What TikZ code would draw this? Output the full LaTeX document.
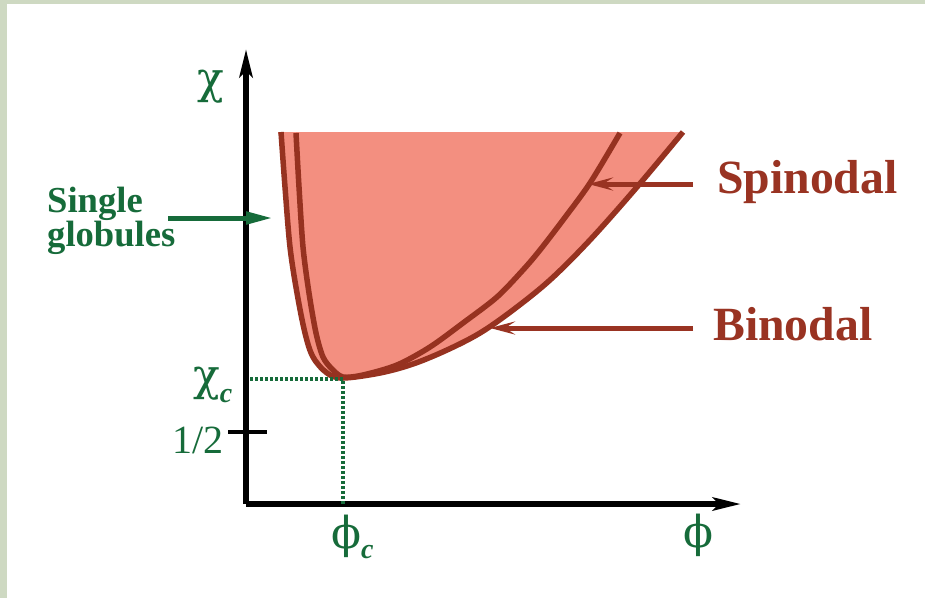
\documentclass[tikz,border=0pt]{standalone}
\usepackage{fontspec}
\setmainfont{Liberation Serif}
\newfontfamily\greekfont{DejaVu Serif}
\usetikzlibrary{arrows.meta}
\definecolor{framebg}{RGB}{206,217,194}
\definecolor{lbgreen}{RGB}{22,107,58}
\definecolor{lbred}{RGB}{153,51,34}
\definecolor{curvecol}{RGB}{150,50,32}
\definecolor{regioncol}{RGB}{243,143,128}
\tikzset{
  axisline/.style={line width=5.5pt, -{Stealth[length=28pt,width=13pt,inset=6pt]}},
  curveline/.style={draw=curvecol, line width=5.5pt},
  pointer/.style={draw=lbred, fill=lbred, line width=5pt, -{Stealth[length=25pt,width=13pt,inset=10pt]}},
  greenpointer/.style={draw=lbgreen, fill=lbgreen, line width=5pt, -{Triangle[length=27pt,width=12pt]}},
  greek/.style={text=lbgreen, inner sep=0pt, font=\fontsize{44}{44}\greekfont},
  bigred/.style={text=lbred, inner sep=0pt, font=\fontsize{47.7}{48}\selectfont\bfseries},
  guide/.style={lbgreen, line width=3.5pt, dash pattern=on 3pt off 2pt}
}
\newcommand{\subc}[1]{\raisebox{#1}{\fontsize{28}{28}\rmfamily\bfseries\itshape c}}
\begin{document}
\begin{tikzpicture}[x=1pt,y=-1pt]
\useasboundingbox (0,0) rectangle (925,598);
\fill[framebg] (0,0) rectangle (925,598);
\fill[white] (7,4) rectangle (925,598);

% region between binodal branches
\fill[regioncol] plot[smooth,tension=0.55] coordinates {(281,132) (285,187) (290,247) (297,293) (305,333) (313,357) (327,373) (343,378) (380,373) (413,364) (447,350) (480,333) (513,310) (550,280) (590,240) (637,187) (683,132)} -- cycle;
\fill[regioncol] (278,132) rectangle (683,134);

% binodal
\draw[curveline] plot[smooth,tension=0.55] coordinates {(281,132) (285,187) (290,247) (297,293) (305,333) (313,357) (327,373) (343,378) (380,373) (413,364) (447,350) (480,333) (513,310) (550,280) (590,240) (637,187) (683,132)};
% spinodal
\draw[curveline] plot[smooth,tension=0.5] coordinates {(296,133) (299,187) (303,247) (309,293) (316,333) (323,357) (332,369) (343,377) (363,375) (397,365) (430,347) (463,323) (497,297) (523,270) (540,250) (563,220) (590,183) (620,133)};

% axes
\coordinate (O) at (246,504);
\coordinate (ytop) at (246,49);
\coordinate (xend) at (741,504);
\draw[axisline] (O) -- (ytop);
\draw[axisline] (O) -- (xend);

% critical point guides
\coordinate (chiy) at (250,379);
\coordinate (crit) at (343,379);
\coordinate (phix) at (343,504);
\draw[guide] (chiy) -- (crit) -- (phix);

% 1/2 tick
\coordinate (tickl) at (228,432);
\coordinate (tickr) at (267,432);
\draw[line width=4pt] (tickl) -- (tickr);

% labels
\node[greek, anchor=base west] (chi) at (197,93) {χ};
\node[greek, anchor=base west] (chic) at (193,390) {χ\subc{-12pt}};
\node[text=lbgreen, inner sep=0pt, font=\fontsize{40}{40}\selectfont, anchor=base east] (half) at (224,453) {1/2};
\node[greek, anchor=base west] (phic) at (331,548) {ϕ\subc{-10pt}};
\node[greek, anchor=base west] (phi) at (683,547) {ϕ};

\node[bigred, anchor=base west] (spin) at (717,193) {Spinodal};
\node[bigred, anchor=base west] (bin) at (713,340) {Binodal};
\node[text=lbgreen, inner sep=0pt, align=left, anchor=base west, font=\fontsize{36.6}{29}\selectfont\bfseries] (sg) at (47,246.7) {Single\\globules};

% pointers
\coordinate (spinstart) at (693,184);
\coordinate (spintip) at (588,184);
\coordinate (binstart) at (693,328);
\coordinate (bintip) at (490,328);
\coordinate (sgstart) at (168,218);
\coordinate (sgtip) at (273,218);
\draw[pointer] (spinstart) -- (spintip);
\draw[pointer] (binstart) -- (bintip);
\draw[greenpointer] (sgstart) -- (sgtip);
\end{tikzpicture}
\end{document}
